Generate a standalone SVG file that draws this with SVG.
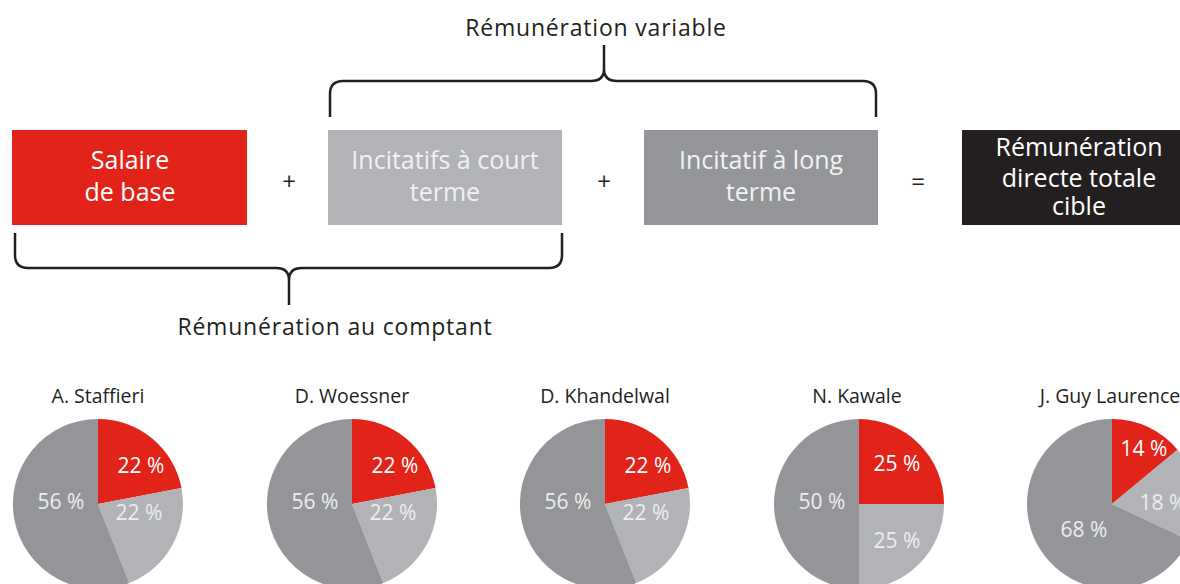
<svg xmlns="http://www.w3.org/2000/svg" width="1180" height="584" viewBox="0 0 1180 584">
<style>
text{font-family:"Open Sans",Lato,"Noto Sans",sans-serif;text-anchor:middle}
.box{font-size:25px;fill:#fff}
.boxl{font-size:25px;fill:#f2f2f2}
.cap{font-size:23px;fill:#231f20;letter-spacing:0.8px}
.op{font-size:24px;fill:#231f20}
.name{font-size:19.5px;fill:#231f20}
.pct{font-size:21px;fill:#fff}
.pctg{font-size:21px;fill:#eeeeee}
.brace{fill:none;stroke:#231f20;stroke-width:2.5;stroke-linejoin:round}
.red{fill:#e2231a}
.lg{fill:#b1b3b6}
.dg{fill:#939598}
</style>
<rect width="1180" height="584" fill="#fff"/>
<g id="connectors">
<path class="brace" d="M15,233 V255 Q15,268 28,268 H276 Q289,268 289,280 V305 M289,305 V280 Q289,268 302,268 H549 Q562,268 562,255 V233"/>
<path class="brace" d="M330,117 V94 Q330,81 343,81 H591 Q604,81 604,69 V45 M604,45 V69 Q604,81 617,81 H863 Q876,81 876,94 V117"/>
</g>
<g id="label-variable"><text class="cap" x="596" y="36">Rémunération variable</text></g>
<g id="label-comptant"><text class="cap" x="335" y="335">Rémunération au comptant</text></g>
<g id="salaire">
<rect class="red" x="12" y="130" width="235" height="95"/>
<text class="box" x="130" y="169">Salaire</text>
<text class="box" x="130" y="201">de base</text>
</g>
<g id="op1"><text class="op" x="289" y="190">+</text></g>
<g id="court">
<rect class="lg" x="328" y="130" width="234" height="95"/>
<text class="boxl" x="445" y="169">Incitatifs à court</text>
<text class="boxl" x="445" y="201">terme</text>
</g>
<g id="op2"><text class="op" x="604" y="190">+</text></g>
<g id="long">
<rect class="dg" x="644" y="130" width="234" height="95"/>
<text class="boxl" x="761" y="169">Incitatif à long</text>
<text class="boxl" x="761" y="201">terme</text>
</g>
<g id="op3"><text class="op" x="918" y="190">=</text></g>
<g id="total">
<rect fill="#231f20" x="962" y="130" width="235" height="95"/>
<text class="box" x="1079" y="156">Rémunération</text>
<text class="box" x="1079" y="187">directe totale</text>
<text class="box" x="1079" y="215">cible</text>
</g>
<g id="pie1">
<text class="name" x="98" y="403">A. Staffieri</text>
<path class="red" d="M98,504 L98,419 A85,85 0 0 1 181.5,488.1 Z"/>
<path class="lg" d="M98,504 L181.5,488.1 A85,85 0 0 1 129.3,583 Z"/>
<path class="dg" d="M98,504 L129.3,583 A85,85 0 1 1 98,419 Z"/>
<text class="pct" x="141" y="473">22 %</text>
<text class="pctg" x="139" y="520">22 %</text>
<text class="pctg" x="61" y="509">56 %</text>
</g>
<g id="pie2">
<text class="name" x="352" y="403">D. Woessner</text>
<path class="red" d="M352,504 L352,419 A85,85 0 0 1 435.5,488.1 Z"/>
<path class="lg" d="M352,504 L435.5,488.1 A85,85 0 0 1 383.3,583 Z"/>
<path class="dg" d="M352,504 L383.3,583 A85,85 0 1 1 352,419 Z"/>
<text class="pct" x="395" y="473">22 %</text>
<text class="pctg" x="393" y="520">22 %</text>
<text class="pctg" x="315" y="509">56 %</text>
</g>
<g id="pie3">
<text class="name" x="605" y="403">D. Khandelwal</text>
<path class="red" d="M605,504 L605,419 A85,85 0 0 1 688.5,488.1 Z"/>
<path class="lg" d="M605,504 L688.5,488.1 A85,85 0 0 1 636.3,583 Z"/>
<path class="dg" d="M605,504 L636.3,583 A85,85 0 1 1 605,419 Z"/>
<text class="pct" x="648" y="473">22 %</text>
<text class="pctg" x="646" y="520">22 %</text>
<text class="pctg" x="568" y="509">56 %</text>
</g>
<g id="pie4">
<text class="name" x="857" y="403">N. Kawale</text>
<path class="red" d="M859,504 L859,419 A85,85 0 0 1 944,504 Z"/>
<path class="lg" d="M859,504 L944,504 A85,85 0 0 1 859,589 Z"/>
<path class="dg" d="M859,504 L859,589 A85,85 0 0 1 859,419 Z"/>
<text class="pct" x="897" y="471">25 %</text>
<text class="pctg" x="822" y="509">50 %</text>
<text class="pctg" x="897" y="548">25 %</text>
</g>
<g id="pie5">
<text class="name" x="1110" y="403">J. Guy Laurence</text>
<path class="red" d="M1112,504 L1112,419 A85,85 0 0 1 1177.5,449.8 Z"/>
<path class="lg" d="M1112,504 L1177.5,449.8 A85,85 0 0 1 1188.9,540.2 Z"/>
<path class="dg" d="M1112,504 L1188.9,540.2 A85,85 0 1 1 1112,419 Z"/>
<text class="pct" x="1144" y="456">14 %</text>
<text class="pctg" x="1163" y="510">18 %</text>
<text class="pctg" x="1084" y="537">68 %</text>
</g>
</svg>
